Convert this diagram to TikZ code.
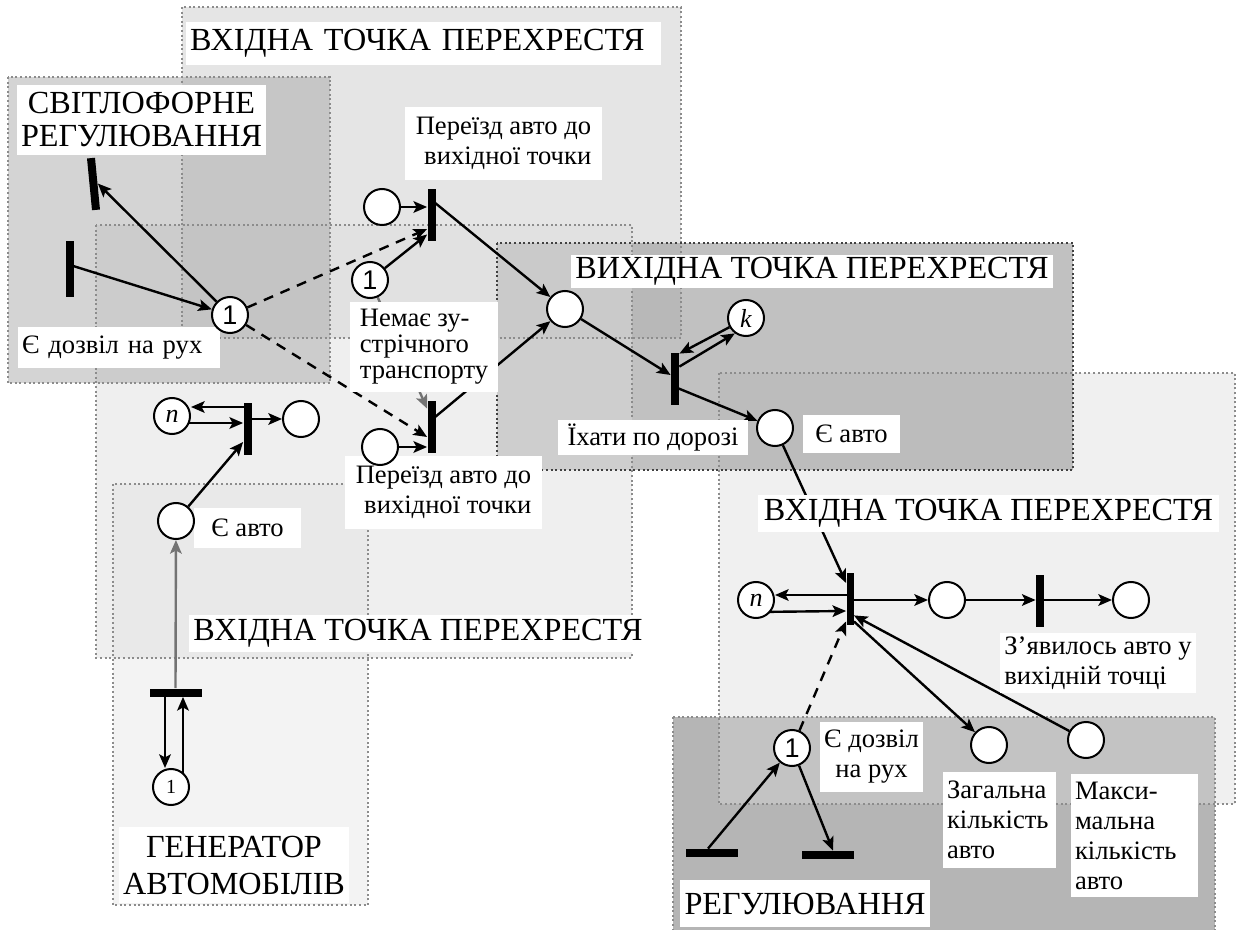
\documentclass[tikz,border=0pt]{standalone}
\usepackage{fontspec}
\setmainfont{Liberation Serif}
\newfontfamily\sansf{Liberation Sans}
\usetikzlibrary{arrows.meta}
\newcommand\BigLbl{\fontsize{16.1}{16.5}\selectfont}
\newcommand\SmLbl{\fontsize{13.3}{15}\selectfont}
\pgfdeclarelayer{bgl}\pgfdeclarelayer{edgel}\pgfdeclarelayer{lbll}
\pgfsetlayers{bgl,edgel,lbll,main}
\begin{document}
\begin{tikzpicture}[x=0.5pt,y=-0.5pt,
  region/.style={draw=black!45, line width=1pt, dash pattern=on 1pt off 1.3pt},
  place/.style={circle, draw, line width=1pt, fill=white, minimum size=18pt, inner sep=0pt, font=\fontsize{13}{13}\selectfont},
  vbar/.style={fill=black, minimum width=4pt, minimum height=26pt, inner sep=0pt},
  hbar/.style={fill=black, minimum width=26pt, minimum height=4pt, inner sep=0pt},
  arc/.style={line width=1.2pt, -{Stealth[length=6.8pt,width=5.8pt,inset=1.5pt]}},
  garc/.style={arc, draw=black!55},
  darc/.style={arc, dash pattern=on 5pt off 4pt},
  lbl/.style={fill=white, inner xsep=2pt, inner ysep=0pt, font=\SmLbl},
  big/.style={fill=white, inner xsep=2pt, inner ysep=0pt, font=\BigLbl}
]
\useasboundingbox (0,0) rectangle (1237,930);
\begin{pgfonlayer}{bgl}
\fill[black!10] (182,7) rectangle (681,338);
\fill[black!29] (673,717) rectangle (1215,935);
\fill[black!15, fill opacity=0.4] (719,373) rectangle (1235,804);
\fill[black!35, fill opacity=0.7] (497,243) rectangle (1073,470);
\fill[black!13, fill opacity=0.48] (96,225) rectangle (632,658);
\fill[black!35, fill opacity=0.48] (8,77) rectangle (330,383);
\fill[black!13, fill opacity=0.375] (113,484) rectangle (368,905);
\draw[region] (182,7) rectangle (681,338);
\draw[region] (673,717) rectangle (1215,935);
\draw[region] (719,373) rectangle (1235,804);
\draw[region, draw=black!75] (497,243) rectangle (1073,470);
\draw[region] (96,225) rectangle (632,658);
\draw[region] (8,77) rectangle (330,383);
\draw[region] (113,484) rectangle (368,905);
\end{pgfonlayer}

% places
\node[place, font=\sansf\fontsize{13.5}{13.5}\selectfont] (pPerm) at (230,315) {1};
\node[place, font=\sansf\fontsize{13.5}{13.5}\selectfont] (pOne2) at (370,280) {1};
\node[place, font=\sansf\fontsize{13.5}{13.5}\selectfont] (pReg1) at (792,748) {1};
\node[place, font=\fontsize{10}{10}\selectfont] (pGen) at (171,787) {1};
\node[place] (pUpIn) at (382,207) {};
\node[place] (pLoIn) at (380,447) {};
\node[place] (pMid) at (565,309) {};
\node[place] (pK) at (746,318) {\itshape k};
\node[place] (pEavto) at (775,428) {};
\node[place] (pNr) at (756,600) {\itshape n};
\node[place] (pR1) at (947,600) {};
\node[place] (pR2) at (1131,600) {};
\node[place] (pTot) at (989,745) {};
\node[place] (pMax) at (1086,740) {};
\node[place] (pNl) at (172,416) {\itshape n};
\node[place] (pLout) at (301,419) {};
\node[place] (pEa) at (176,521) {};
% transitions
\node[vbar, rotate=5.5] (tS1) at (93.5,184) {};
\node[vbar, minimum height=28pt] (tS2) at (70,269) {};
\node[vbar] (tUp) at (431.5,215.5) {};
\node[vbar] (tLo) at (431.5,427) {};
\node[vbar] (tGo) at (675,379) {};
\node[vbar, minimum width=3.5pt] (tIn) at (850,599) {};
\node[vbar] (tR2) at (1040,601) {};
\node[vbar] (tLeft) at (247.5,429) {};
\node[hbar] (tGen) at (175.5,692.5) {};
\node[hbar] (tReg1) at (712,853) {};
\node[hbar] (tReg2) at (828,855) {};

\begin{pgfonlayer}{lbll}
\node[big, text width=233.5pt, align=left, minimum height=21.5pt] (lT) at (423.5,43.5) {ВХІДНА ТОЧКА ПЕРЕХРЕСТЯ};
\node[big, minimum width=123.5pt, minimum height=35pt, align=center] (lS) at (141.5,120) {СВІТЛОФОРНЕ\\РЕГУЛЮВАННЯ};
\node[big, minimum width=224pt, minimum height=18.5pt] (lM) at (418,633.5) {ВХІДНА ТОЧКА ПЕРЕХРЕСТЯ};
\node[big, minimum width=240pt, minimum height=16.5pt] (lV) at (812,271.5) {ВИХІДНА ТОЧКА ПЕРЕХРЕСТЯ};
\node[big, minimum width=230.5pt, minimum height=18.5pt] (lR) at (988.5,513.5) {ВХІДНА ТОЧКА ПЕРЕХРЕСТЯ};
\node[big, font=\fontsize{16.1}{18.5}\selectfont, minimum width=112pt, minimum height=38pt, align=center] (lG) at (234,865) {ГЕНЕРАТОР\\АВТОМОБІЛІВ};
\node[big, minimum width=125pt, minimum height=23.5pt] (lReg) at (805,903.5) {РЕГУЛЮВАННЯ};

\node[lbl, text width=97pt, align=left, minimum height=20.5pt] (lPermA) at (119,347.5) {Є дозвіл на рух};
\node[lbl, minimum width=98.5pt, minimum height=36.5pt, align=right] (lUp) at (503.5,143.5) {Переїзд авто до\\вихідної точки};
\node[lbl, font=\fontsize{13.3}{13}\selectfont, minimum width=74pt, minimum height=45pt, align=left] (lNo) at (424,347) {Немає зу-\\стрічного\\транспорту};
\node[lbl, minimum width=98.5pt, minimum height=36.5pt, align=right] (lLo) at (443.5,492.5) {Переїзд авто до\\вихідної точки};
\node[lbl, minimum width=53.5pt, minimum height=20pt] (lEa) at (247.5,528) {Є авто};
\node[lbl, minimum width=95pt, minimum height=17.5pt] (lGo) at (653,437.5) {Їхати по дорозі};
\node[lbl, minimum width=48.5pt, minimum height=19pt] (lEavto) at (851.5,434) {Є авто};
\node[lbl, minimum width=95pt, minimum height=30pt, align=left] (lApp) at (1098,663) {З’явилось авто у\\вихідній точці};
\node[lbl, minimum width=51.5pt, minimum height=35pt, align=center] (lPermB) at (871.5,757) {Є дозвіл\\на рух};
\node[lbl, text width=52.5pt, minimum height=48pt, align=left] (lTot) at (999.5,820) {Загальна\\кількість\\авто};
\node[lbl, text width=59.5pt, minimum height=61.5pt, align=left] (lMax) at (1134.5,835.5) {Макси-\\мальна\\кількість\\авто};
\end{pgfonlayer}

\begin{pgfonlayer}{edgel}
\draw[arc] ([yshift=2pt]tS2.center) -- (pPerm);
\draw[arc] (pPerm) -- (tS1.east);
\draw[darc] (pPerm) -- ([yshift=-6.75pt]tUp.west);
\draw[darc] (pPerm) -- ([yshift=-5pt]tLo.west);
\draw[arc] (pUpIn) -- (pUpIn -| tUp.west);
\draw[arc] (pOne2) -- ([yshift=-9.5pt]tUp.west);
\draw[arc] ([yshift=7.75pt]tUp.center) -- (pMid);
\draw[arc] (pLoIn) -- (pLoIn -| tLo.west);
\draw[arc] ([yshift=3.5pt]tLo.center) -- (pMid);
\draw[garc] (pOne2) -- ([yshift=-4pt]tLo.north west);
\draw[arc] (pMid) -- ([yshift=2pt]tGo.west);
\draw[arc] (pK.209) -- ([yshift=-0.5pt]tGo.north east);
\draw[arc] ([yshift=-7pt]tGo.north east) -- (pK.234);
\draw[arc] ([yshift=-4pt]tGo.center) -- (pEavto);
\draw[arc] (pEavto) -- ([yshift=8pt]tIn.west);
\draw[arc] ([yshift=2pt]tIn.center) -- ([yshift=2.5pt]pNr.east);
\draw[arc] ([yshift=-6pt]pNr.center) -- ([yshift=-6pt]tIn.west);
\draw[arc] (tIn.center |- pR1) -- (pR1);
\draw[arc] (pR1) -- (pR1 -| tR2.west);
\draw[arc] (pR1 -| tR2.center) -- (pR2);
\draw[arc] ([yshift=2pt]tIn.south east) -- (pTot);
\draw[arc] (pMax) -- ([yshift=5pt]tIn.south east);
\draw[darc] (pReg1) -- ([yshift=2pt]tIn.south west);
\draw[arc] ([xshift=-2pt]tReg1.north) -- (pReg1);
\draw[arc] (pReg1) -- ([xshift=2.5pt]tReg2.north);
\draw[arc] (pEa) -- ([yshift=-6.5pt]tLeft.west);
\draw[arc] ([yshift=11pt]tLeft.center) -- ([yshift=4.5pt]pNl.east);
\draw[arc] ([yshift=-3.5pt]pNl.center) -- ([yshift=3pt]tLeft.west);
\draw[arc] ([yshift=5pt]tLeft.center) -- (pLout);
\draw[garc] (tGen.north) -- (pEa);
\draw[arc] ([xshift=-5.25pt]tGen.south) -- ([xshift=-3pt]pGen.north);
\draw[arc] ([xshift=6pt]pGen.center) -- ([xshift=3.75pt]tGen.south);
\end{pgfonlayer}
\end{tikzpicture}
\end{document}
